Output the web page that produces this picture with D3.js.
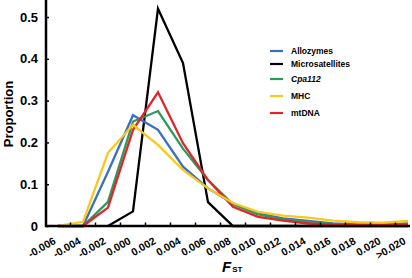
<!DOCTYPE html>
<html><head><meta charset="utf-8">
<script src="https://cdn.jsdelivr.net/npm/d3@7"></script>
<style>body{margin:0;background:#fff}svg{display:block;font-family:"Liberation Sans",Arial,sans-serif}</style>
</head><body><svg id="c" width="412" height="278"></svg>
<script>
const categories = ["-0.006","-0.004","-0.002","0.000","0.002","0.004","0.006","0.008","0.010","0.012","0.014","0.016","0.018","0.020",">0.020"];
const allozymes = [0,0,0.13,0.265,0.23,0.142,0.09,0.054,0.03,0.018,0.012,0.006,0.004,0.003,0.006];
const microsatellites = [null,null,0,0.035,0.52,0.39,0.057,0,0,0,0,0,0,0,0];
const cpa112 = [0,0,0.058,0.25,0.275,0.185,0.11,0.052,0.028,0.016,0.01,0.005,0.003,0.003,0.005];
const mhc = [0,0.01,0.175,0.242,0.194,0.134,0.09,0.055,0.034,0.025,0.02,0.013,0.009,0.008,0.012];
const mtdna = [0,0,0.044,0.23,0.32,0.198,0.11,0.046,0.022,0.013,0.006,0.003,0.002,0.002,0.003];
const yTicks = [0,0.1,0.2,0.3,0.4,0.5];
const seriesNames = ["Allozymes","Microsatellites","Cpa112","MHC","mtDNA"];
const seriesColors = ["#3b6fc4","#000000","#2a9a5c","#f8c81c","#e0242a"];
const seriesData = [allozymes,microsatellites,cpa112,mhc,mtdna];
const drawOrder = [1,0,2,4,3];

const svg = d3.select("#c");
const x = d3.scalePoint().domain(categories).range([58,408]);
const y = d3.scaleLinear().domain([0,0.54]).range([226,0.3]);
const step = x.step();

// lines
const line = d3.line().defined(d=>d.v!==null).x(d=>x(d.c)).y(d=>y(d.v));
drawOrder.forEach(i=>{
  svg.append("path")
    .datum(categories.map((c,j)=>({c,v:seriesData[i][j]})))
    .attr("fill","none").attr("stroke",seriesColors[i]).attr("stroke-width",2.3)
    .attr("stroke-linejoin","miter").attr("d",line);
});

// y axis
const yAxis = d3.axisLeft(y).tickValues(yTicks).tickFormat(d=>d===0?"0":d3.format(".1f")(d)).tickSize(-3).tickPadding(8);
const gy = svg.append("g").attr("transform","translate(46,0)").call(yAxis);
gy.select(".domain").remove();
gy.selectAll(".tick line").attr("stroke","#000").attr("stroke-width",1.5);
gy.selectAll(".tick text").attr("font-size",13).attr("font-weight","bold").attr("fill","#000");
svg.append("line").attr("x1",46).attr("x2",46).attr("y1",0).attr("y2",227).attr("stroke","#000").attr("stroke-width",2.5);

// x axis
const xAxis = d3.axisBottom(x).tickSize(0).tickPadding(0);
const gx = svg.append("g").attr("transform","translate(0,226)").call(xAxis);
gx.select(".domain").remove();
gx.selectAll(".tick text").attr("font-size",10.5).attr("font-weight","bold").attr("fill","#000")
  .attr("text-anchor","end").attr("dy",null).attr("y",null)
  .attr("transform","translate(-2,17) rotate(-30)");
const bounds = categories.slice(1).map(c=>x(c)-step/2);
svg.append("g").selectAll("line").data(bounds).join("line")
  .attr("x1",d=>d).attr("x2",d=>d).attr("y1",226).attr("y2",222.5)
  .attr("stroke","#000").attr("stroke-width",1.5);
svg.append("line").attr("x1",45).attr("x2",410).attr("y1",226).attr("y2",226).attr("stroke","#000").attr("stroke-width",2.5);

// axis titles
svg.append("text").attr("transform","translate(13,114) rotate(-90)").attr("text-anchor","middle")
  .attr("font-size",13).attr("font-weight","bold").text("Proportion");
const ft = svg.append("text").attr("x",222).attr("y",272).attr("font-weight","bold");
ft.append("tspan").attr("font-style","italic").attr("font-size",15).text("F");
ft.append("tspan").attr("font-size",8).attr("dx",1).text("ST");

// legend
const legY = [51,64,79,96,113];
const leg = svg.append("g");
seriesNames.forEach((n,i)=>{
  leg.append("line").attr("x1",270).attr("x2",283).attr("y1",legY[i]).attr("y2",legY[i])
    .attr("stroke",seriesColors[i]).attr("stroke-width",2.2);
  leg.append("text").attr("x",291).attr("y",legY[i]+3).attr("font-size",8.5).attr("font-weight","bold")
    .attr("font-style",n==="Cpa112"?"italic":"normal").text(n);
});
</script></body></html>
